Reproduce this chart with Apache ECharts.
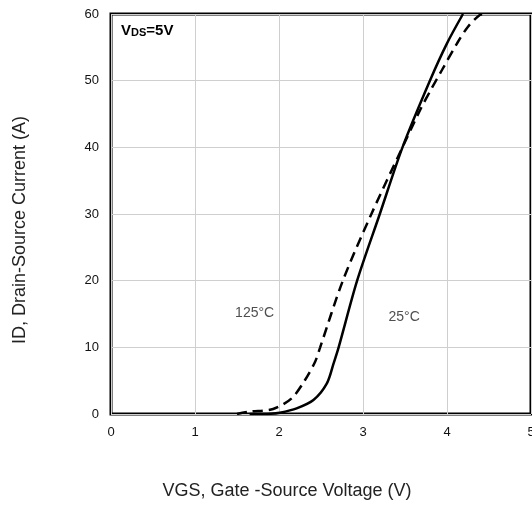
<!DOCTYPE html>
<html>
<head>
<meta charset="utf-8">
<script src="https://cdn.jsdelivr.net/npm/echarts@6/dist/echarts.min.js"></script>
<style>html,body{margin:0;padding:0;background:#fff}#c{width:532px;height:508px}</style>
</head>
<body>
<div id="c"></div>
<script>
const xTicks = [0, 1, 2, 3, 4, 5];
const yTicks = [0, 10, 20, 30, 40, 50, 60];
const vgs25 = [1.65, 1.90, 2.01, 2.21, 2.41, 2.57, 2.65, 2.71, 2.93, 3.20, 3.47, 3.80, 4.00, 4.19];
const id25 = [0, 0.05, 0.2, 0.85, 2.1, 4.6, 7.6, 10.0, 20.0, 30.0, 40.0, 50.1, 55.6, 60];
const vgs125 = [1.50, 1.65, 1.93, 2.15, 2.31, 2.43, 2.49, 2.76, 3.10, 3.47, 3.68, 3.82, 3.94, 4.12, 4.25, 4.39, 4.45];
const id125 = [0, 0.35, 0.75, 2.35, 5.1, 7.85, 10.0, 20.0, 30.0, 40.0, 45.6, 48.9, 51.6, 55.6, 58.1, 59.85, 60];
const labels = [
  { text: '125°C', x: 1.71, y: 15.1 },
  { text: '25°C', x: 3.49, y: 14.5 }
];

const font = '"Liberation Sans", Arial, sans-serif';
const chart = echarts.init(document.getElementById('c'));
const zip = (a, b) => a.map((v, i) => [v, b[i]]);

chart.setOption({
  animation: false,
  grid: { left: 111, right: 1, top: 14, bottom: 94, outerBoundsMode: 'none', containLabel: false, show: true, borderColor: '#000', borderWidth: 3, backgroundColor: 'transparent' },
  xAxis: {
    type: 'value', min: xTicks[0], max: xTicks[xTicks.length - 1], interval: 1,
    axisLine: { show: false }, axisTick: { show: false },
    splitLine: { show: true, lineStyle: { color: '#cfcfcf', width: 1 } },
    axisLabel: { color: '#111', fontSize: 13, fontFamily: font, margin: 12 }
  },
  yAxis: {
    type: 'value', min: yTicks[0], max: yTicks[yTicks.length - 1], interval: 10,
    axisLine: { show: false }, axisTick: { show: false },
    splitLine: { show: true, lineStyle: { color: '#cfcfcf', width: 1 } },
    axisLabel: { color: '#111', fontSize: 13, fontFamily: font, margin: 12 }
  },
  series: [
    {
      type: 'line', name: '25°C', data: zip(vgs25, id25), smooth: 0.3, symbol: 'none',
      lineStyle: { color: '#000', width: 2.5 }, z: 3
    },
    {
      type: 'line', name: '125°C', data: zip(vgs125, id125), smooth: 0.3, symbol: 'none',
      lineStyle: { color: '#000', width: 2.5, type: [10, 6] }, z: 3
    },
    {
      type: 'scatter', data: labels.map(l => ({ value: [l.x, l.y], name: l.text })),
      symbolSize: 0, silent: true,
      label: { show: true, position: 'inside', formatter: p => p.name, color: '#222', fontSize: 14, fontFamily: font }
    }
  ],
  graphic: [
    {
      type: 'text', left: 121, top: 23,
      style: {
        text: '{a|V}{b|DS}{a|=5V}',
        rich: {
          a: { fontSize: 15, fontWeight: 'bold', fontFamily: font, fill: '#000', verticalAlign: 'bottom', lineHeight: 18 },
          b: { fontSize: 11, fontWeight: 'bold', fontFamily: font, fill: '#000', verticalAlign: 'bottom', lineHeight: 18 }
        }
      }
    },
    {
      type: 'text', x: 287, y: 491,
      style: { text: 'VGS, Gate -Source Voltage (V)', fontSize: 18, fontFamily: font, fill: '#222', align: 'center', verticalAlign: 'middle' }
    },
    {
      type: 'text', x: 20, y: 230, rotation: Math.PI / 2,
      style: { text: 'ID, Drain-Source Current (A)', fontSize: 18, fontFamily: font, fill: '#222', align: 'center', verticalAlign: 'middle' }
    }
  ]
});
</script>
</body>
</html>
